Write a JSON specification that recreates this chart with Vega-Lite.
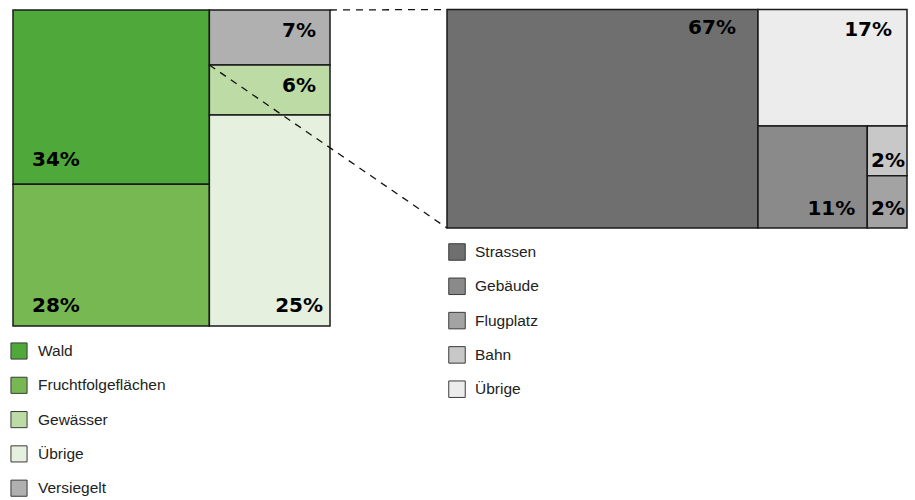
{
  "$schema": "https://vega.github.io/schema/vega-lite/v6.json",
  "width": 915,
  "height": 500,
  "padding": 0,
  "autosize": "none",
  "background": "white",
  "config": {"view": {"stroke": null}},
  "data": {
    "values": [
      {"panel": "links", "cat": "Wald", "share": 0.340, "col": 1, "row": 1, "sub": 1, "ord": 1},
      {"panel": "links", "cat": "Fruchtfolgeflächen", "share": 0.277, "col": 1, "row": 2, "sub": 1, "ord": 2},
      {"panel": "links", "cat": "Versiegelt", "share": 0.066, "col": 2, "row": 1, "sub": 1, "ord": 3},
      {"panel": "links", "cat": "Gewässer", "share": 0.060, "col": 2, "row": 2, "sub": 1, "ord": 4},
      {"panel": "links", "cat": "Übrige", "share": 0.253, "col": 2, "row": 3, "sub": 1, "ord": 5},
      {"panel": "rechts", "cat": "Strassen", "share": 0.670, "col": 1, "row": 1, "sub": 1, "ord": 1},
      {"panel": "rechts", "cat": "Übrige", "share": 0.171, "col": 2, "row": 1, "sub": 1, "ord": 2},
      {"panel": "rechts", "cat": "Gebäude", "share": 0.110, "col": 2, "row": 2, "sub": 1, "ord": 3},
      {"panel": "rechts", "cat": "Bahn", "share": 0.0195, "col": 2, "row": 2, "sub": 2, "ord": 4},
      {"panel": "rechts", "cat": "Flugplatz", "share": 0.0205, "col": 2, "row": 2, "sub": 2, "ord": 5}
    ]
  },
  "transform": [
    {"stack": "share", "groupby": ["panel"], "sort": [{"field": "ord", "order": "ascending"}], "offset": "normalize", "as": ["a0", "a1"]},
    {"joinaggregate": [{"op": "min", "field": "a0", "as": "cx0"}, {"op": "max", "field": "a1", "as": "cx1"}], "groupby": ["panel", "col"]},
    {"stack": "share", "groupby": ["panel", "col"], "sort": [{"field": "ord", "order": "ascending"}], "offset": "normalize", "as": ["b0", "b1"]},
    {"joinaggregate": [{"op": "min", "field": "b0", "as": "ry0"}, {"op": "max", "field": "b1", "as": "ry1"}], "groupby": ["panel", "col", "row"]},
    {"stack": "share", "groupby": ["panel", "col", "row"], "sort": [{"field": "ord", "order": "ascending"}], "offset": "normalize", "as": ["c0", "c1"]},
    {"joinaggregate": [{"op": "min", "field": "c0", "as": "fx0"}, {"op": "max", "field": "c1", "as": "fx1"}], "groupby": ["panel", "col", "row", "sub"]},
    {"stack": "share", "groupby": ["panel", "col", "row", "sub"], "sort": [{"field": "ord", "order": "ascending"}], "offset": "normalize", "as": ["d0", "d1"]},
    {"calculate": "datum.cx0 + datum.fx0 * (datum.cx1 - datum.cx0)", "as": "x0"},
    {"calculate": "datum.cx0 + datum.fx1 * (datum.cx1 - datum.cx0)", "as": "x1"},
    {"calculate": "datum.ry0 + datum.d0 * (datum.ry1 - datum.ry0)", "as": "y0"},
    {"calculate": "datum.ry0 + datum.d1 * (datum.ry1 - datum.ry0)", "as": "y1"}
  ],
  "layer": [
    {
      "transform": [{"filter": "datum.panel == 'links'"}],
      "layer": [
        {
          "mark": {"type": "rect", "stroke": "#1a1a1a", "strokeWidth": 1.5},
          "encoding": {
            "x": {"field": "x0", "type": "quantitative", "axis": null, "scale": {"domain": [0, 1], "range": [13, 330], "nice": false, "zero": false}},
            "x2": {"field": "x1"},
            "y": {"field": "y0", "type": "quantitative", "axis": null, "scale": {"domain": [0, 1], "range": [10, 326], "nice": false, "zero": false}},
            "y2": {"field": "y1"},
            "color": {
              "field": "cat", "type": "nominal",
              "scale": {"domain": ["Wald", "Fruchtfolgeflächen", "Gewässer", "Übrige", "Versiegelt"], "range": ["#4fa83a", "#78b853", "#bcdba5", "#e6f0df", "#b0b0b0"]},
              "legend": {"orient": "none", "legendX": 10, "legendY": 342, "direction": "vertical", "title": null, "symbolType": "square", "symbolSize": 260, "symbolStrokeColor": "#3a3a3a", "symbolStrokeWidth": 1, "labelFont": "Liberation Sans", "labelFontSize": 15.5, "labelColor": "#222222", "labelOffset": 10, "rowPadding": 12.3, "padding": 0}
            }
          }
        },
        {
          "transform": [{"filter": "datum.cat == 'Wald'"}],
          "mark": {"type": "text", "align": "left", "baseline": "alphabetic", "dx": 19, "dy": -18, "font": "DejaVu Sans", "fontWeight": "bold", "fontSize": 20, "color": "#000000"},
          "encoding": {
            "x": {"field": "x0", "type": "quantitative", "axis": null, "scale": {"domain": [0, 1], "range": [13, 330], "nice": false, "zero": false}},
            "y": {"field": "y1", "type": "quantitative", "axis": null, "scale": {"domain": [0, 1], "range": [10, 326], "nice": false, "zero": false}},
            "text": {"field": "share", "type": "quantitative", "format": ".0%"}
          }
        },
        {
          "transform": [{"filter": "datum.cat == 'Fruchtfolgeflächen'"}],
          "mark": {"type": "text", "align": "left", "baseline": "alphabetic", "dx": 19, "dy": -14, "font": "DejaVu Sans", "fontWeight": "bold", "fontSize": 20, "color": "#000000"},
          "encoding": {
            "x": {"field": "x0", "type": "quantitative", "axis": null, "scale": {"domain": [0, 1], "range": [13, 330], "nice": false, "zero": false}},
            "y": {"field": "y1", "type": "quantitative", "axis": null, "scale": {"domain": [0, 1], "range": [10, 326], "nice": false, "zero": false}},
            "text": {"field": "share", "type": "quantitative", "format": ".0%"}
          }
        },
        {
          "transform": [{"filter": "datum.cat == 'Versiegelt' || datum.cat == 'Gewässer'"}],
          "mark": {"type": "text", "align": "right", "baseline": "alphabetic", "dx": -14, "dy": 26.5, "font": "DejaVu Sans", "fontWeight": "bold", "fontSize": 20, "color": "#000000"},
          "encoding": {
            "x": {"field": "x1", "type": "quantitative", "axis": null, "scale": {"domain": [0, 1], "range": [13, 330], "nice": false, "zero": false}},
            "y": {"field": "y0", "type": "quantitative", "axis": null, "scale": {"domain": [0, 1], "range": [10, 326], "nice": false, "zero": false}},
            "text": {"field": "share", "type": "quantitative", "format": ".0%"}
          }
        },
        {
          "transform": [{"filter": "datum.cat == 'Übrige'"}],
          "mark": {"type": "text", "align": "right", "baseline": "alphabetic", "dx": -7, "dy": -14, "font": "DejaVu Sans", "fontWeight": "bold", "fontSize": 20, "color": "#000000"},
          "encoding": {
            "x": {"field": "x1", "type": "quantitative", "axis": null, "scale": {"domain": [0, 1], "range": [13, 330], "nice": false, "zero": false}},
            "y": {"field": "y1", "type": "quantitative", "axis": null, "scale": {"domain": [0, 1], "range": [10, 326], "nice": false, "zero": false}},
            "text": {"field": "share", "type": "quantitative", "format": ".0%"}
          }
        }
      ]
    },
    {
      "transform": [{"filter": "datum.panel == 'rechts'"}],
      "layer": [
        {
          "mark": {"type": "rect", "stroke": "#1a1a1a", "strokeWidth": 1.5},
          "encoding": {
            "x": {"field": "x0", "type": "quantitative", "axis": null, "scale": {"domain": [0, 1], "range": [447, 907], "nice": false, "zero": false}},
            "x2": {"field": "x1"},
            "y": {"field": "y0", "type": "quantitative", "axis": null, "scale": {"domain": [0, 1], "range": [9.5, 228], "nice": false, "zero": false}},
            "y2": {"field": "y1"},
            "color": {
              "field": "cat", "type": "nominal",
              "scale": {"domain": ["Strassen", "Gebäude", "Flugplatz", "Bahn", "Übrige"], "range": ["#6f6f6f", "#8a8a8a", "#a3a3a3", "#c8c8c8", "#ececec"]},
              "legend": {"orient": "none", "legendX": 448, "legendY": 243, "direction": "vertical", "title": null, "symbolType": "square", "symbolSize": 272, "symbolStrokeColor": "#3a3a3a", "symbolStrokeWidth": 1, "labelFont": "Liberation Sans", "labelFontSize": 15.5, "labelColor": "#222222", "labelOffset": 9, "rowPadding": 12.3, "padding": 0}
            }
          }
        },
        {
          "transform": [{"filter": "datum.cat == 'Strassen'"}],
          "mark": {"type": "text", "align": "right", "baseline": "alphabetic", "dx": -22, "dy": 24.5, "font": "DejaVu Sans", "fontWeight": "bold", "fontSize": 20, "color": "#000000"},
          "encoding": {
            "x": {"field": "x1", "type": "quantitative", "axis": null, "scale": {"domain": [0, 1], "range": [447, 907], "nice": false, "zero": false}},
            "y": {"field": "y0", "type": "quantitative", "axis": null, "scale": {"domain": [0, 1], "range": [9.5, 228], "nice": false, "zero": false}},
            "text": {"field": "share", "type": "quantitative", "format": ".0%"}
          }
        },
        {
          "transform": [{"filter": "datum.cat == 'Übrige'"}],
          "mark": {"type": "text", "align": "right", "baseline": "alphabetic", "dx": -15, "dy": 26.5, "font": "DejaVu Sans", "fontWeight": "bold", "fontSize": 20, "color": "#000000"},
          "encoding": {
            "x": {"field": "x1", "type": "quantitative", "axis": null, "scale": {"domain": [0, 1], "range": [447, 907], "nice": false, "zero": false}},
            "y": {"field": "y0", "type": "quantitative", "axis": null, "scale": {"domain": [0, 1], "range": [9.5, 228], "nice": false, "zero": false}},
            "text": {"field": "share", "type": "quantitative", "format": ".0%"}
          }
        },
        {
          "transform": [{"filter": "datum.cat == 'Gebäude'"}],
          "mark": {"type": "text", "align": "right", "baseline": "alphabetic", "dx": -12, "dy": -13, "font": "DejaVu Sans", "fontWeight": "bold", "fontSize": 20, "color": "#000000"},
          "encoding": {
            "x": {"field": "x1", "type": "quantitative", "axis": null, "scale": {"domain": [0, 1], "range": [447, 907], "nice": false, "zero": false}},
            "y": {"field": "y1", "type": "quantitative", "axis": null, "scale": {"domain": [0, 1], "range": [9.5, 228], "nice": false, "zero": false}},
            "text": {"field": "share", "type": "quantitative", "format": ".0%"}
          }
        },
        {
          "transform": [{"filter": "datum.cat == 'Flugplatz'"}],
          "mark": {"type": "text", "align": "right", "baseline": "alphabetic", "dx": -2, "dy": -13, "font": "DejaVu Sans", "fontWeight": "bold", "fontSize": 20, "color": "#000000"},
          "encoding": {
            "x": {"field": "x1", "type": "quantitative", "axis": null, "scale": {"domain": [0, 1], "range": [447, 907], "nice": false, "zero": false}},
            "y": {"field": "y1", "type": "quantitative", "axis": null, "scale": {"domain": [0, 1], "range": [9.5, 228], "nice": false, "zero": false}},
            "text": {"field": "share", "type": "quantitative", "format": ".0%"}
          }
        },
        {
          "transform": [{"filter": "datum.cat == 'Bahn'"}],
          "mark": {"type": "text", "align": "right", "baseline": "alphabetic", "dx": -2, "dy": -9, "font": "DejaVu Sans", "fontWeight": "bold", "fontSize": 20, "color": "#000000"},
          "encoding": {
            "x": {"field": "x1", "type": "quantitative", "axis": null, "scale": {"domain": [0, 1], "range": [447, 907], "nice": false, "zero": false}},
            "y": {"field": "y1", "type": "quantitative", "axis": null, "scale": {"domain": [0, 1], "range": [9.5, 228], "nice": false, "zero": false}},
            "text": {"field": "share", "type": "quantitative", "format": ".0%"}
          }
        }
      ]
    },
    {
      "transform": [{"filter": "datum.panel == 'links' && datum.cat == 'Versiegelt'"}],
      "layer": [
        {
          "mark": {"type": "rule", "stroke": "#111111", "strokeWidth": 1.3, "strokeDash": [7, 6]},
          "encoding": {
            "x": {"field": "x1", "type": "quantitative", "axis": null, "scale": {"domain": [0, 1, 2, 3], "range": [13, 330, 447, 907], "nice": false, "zero": false}},
            "y": {"field": "y0", "type": "quantitative", "axis": null, "scale": {"domain": [0, 1, 2, 3], "range": [10, 326, 9.5, 228], "nice": false, "zero": false}},
            "x2": {"datum": 2},
            "y2": {"datum": 2}
          }
        },
        {
          "mark": {"type": "rule", "stroke": "#111111", "strokeWidth": 1.3, "strokeDash": [7, 6]},
          "encoding": {
            "x": {"field": "x0", "type": "quantitative", "axis": null, "scale": {"domain": [0, 1, 2, 3], "range": [13, 330, 447, 907], "nice": false, "zero": false}},
            "y": {"field": "y1", "type": "quantitative", "axis": null, "scale": {"domain": [0, 1, 2, 3], "range": [10, 326, 9.5, 228], "nice": false, "zero": false}},
            "x2": {"datum": 2},
            "y2": {"datum": 3}
          }
        }
      ]
    }
  ],
  "resolve": {"scale": {"x": "independent", "y": "independent", "color": "independent"}, "legend": {"color": "independent"}}
}
